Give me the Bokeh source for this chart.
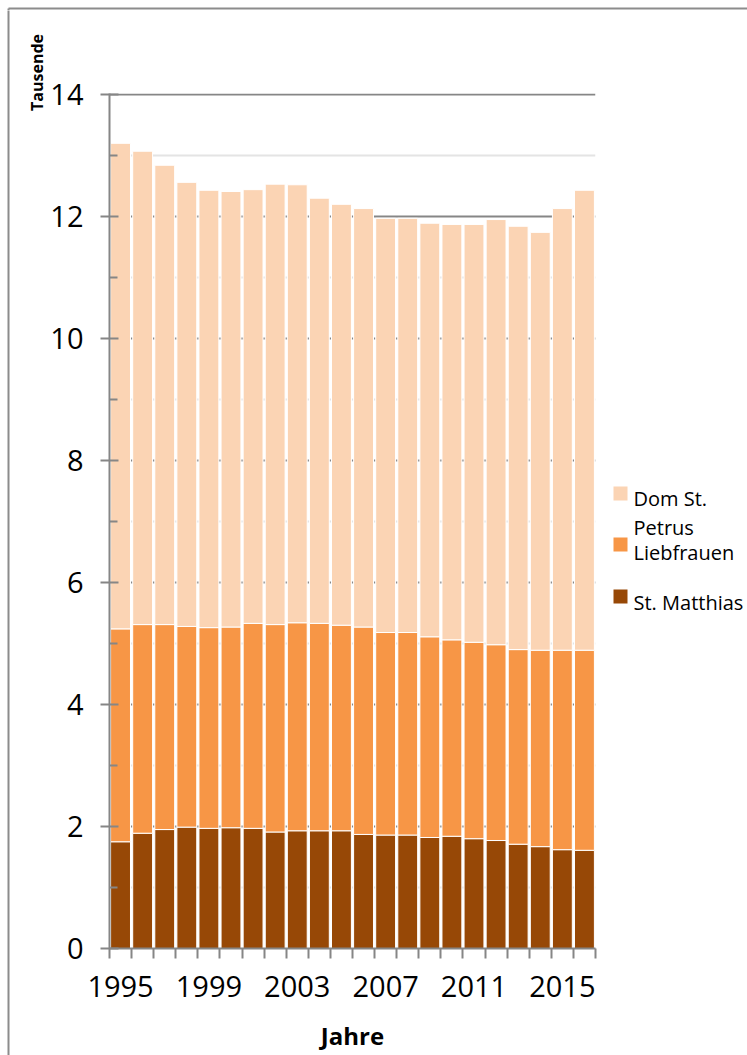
from bokeh.plotting import figure
from bokeh.layouts import row, column
from bokeh.models import ColumnDataSource, Range1d, FixedTicker
from bokeh.core.properties import value
from bokeh.embed import file_html
from bokeh.resources import INLINE
import math

# ---------------- data ----------------
years = list(range(1995, 2017))
st_matthias = [1.75, 1.89, 1.95, 1.99, 1.97, 1.98, 1.97, 1.91, 1.93, 1.93, 1.93,
               1.87, 1.86, 1.86, 1.82, 1.84, 1.80, 1.77, 1.71, 1.67, 1.62, 1.61]
liebfrauen = [3.49, 3.42, 3.36, 3.29, 3.29, 3.29, 3.36, 3.40, 3.41, 3.40, 3.37,
              3.40, 3.32, 3.32, 3.29, 3.22, 3.22, 3.21, 3.19, 3.22, 3.27, 3.28]
dom_st_petrus = [7.96, 7.76, 7.53, 7.28, 7.17, 7.14, 7.11, 7.22, 7.18, 6.97, 6.90,
                 6.86, 6.79, 6.79, 6.78, 6.81, 6.85, 6.97, 6.94, 6.85, 7.24, 7.54]
series_keys = ["matthias", "liebfrauen", "dom"]
colors = ["#974806", "#F79646", "#FBD4B4"]
legend_lines = ["Dom St.", "Petrus", "Liebfrauen", "St. Matthias"]
x_label_years = [1995, 1999, 2003, 2007, 2011, 2015]
y_ticks = [0, 2, 4, 6, 8, 10, 12, 14]
y_minor = [1, 3, 5, 7, 9, 11, 13]

source = ColumnDataSource(dict(year=years, matthias=st_matthias,
                               liebfrauen=liebfrauen, dom=dom_st_petrus))

FONT = "Open Sans"
GRAY = "#868686"
FRAME_GRAY = "#8c8c8c"

W, H = 747, 1055
TOP_H = 10                 # top strip height
ROW_H = H - TOP_H
LEFT_W = 47
MAIN_W = 558
RIGHT_W = W - LEFT_W - MAIN_W
BL, BR = 60, 10            # main figure left / right borders
BT, BB = 83, 107           # main figure top / bottom borders
FRAME_BOT = H - BB         # page y of frame bottom


def pixel_fig(w, h, top=0, bottom=0):
    f = figure(width=w, height=h, output_backend="svg", toolbar_location=None,
               x_range=Range1d(0, w), y_range=Range1d(0, h - top - bottom),
               min_border_left=0, min_border_right=0, min_border_top=top,
               min_border_bottom=bottom, x_axis_type=None, y_axis_type=None)
    f.outline_line_color = None
    f.grid.visible = False
    f.background_fill_color = "white"
    f.border_fill_color = "white"
    return f


# ---------------- top strip (outer chart border) ----------------
top = pixel_fig(W, TOP_H)
top.segment(x0=[8, 8], y0=[TOP_H - 6, TOP_H - 6], x1=[W + 5, 8], y1=[TOP_H - 6, -5],
            line_color=FRAME_GRAY, line_width=2)

# ---------------- left strip (border + unit title) ----------------
left = pixel_fig(LEFT_W, ROW_H)
left.segment(x0=[8], y0=[ROW_H + 5], x1=[8], y1=[-5], line_color=FRAME_GRAY, line_width=2)
left.text(x=[36], y=[ROW_H - (72 - TOP_H)], text=["Tausende"], angle=math.pi / 2,
          text_align="center", text_baseline="middle", text_font=value(FONT),
          text_font_style="bold", text_font_size="16px", text_color="black")

# ---------------- main chart ----------------
Y1 = 14 + 1 / 61.0
p = figure(width=MAIN_W, height=ROW_H, output_backend="svg", toolbar_location=None,
           x_range=Range1d(1994.5, 2016.5), y_range=Range1d(0, Y1),
           min_border_left=BL, min_border_right=BR, min_border_top=BT,
           min_border_bottom=BB)
p.outline_line_color = None
p.background_fill_color = "white"
p.border_fill_color = "white"

p.vbar_stack(series_keys, x="year", width=0.9, source=source, color=colors,
             line_color="white", line_width=1)

p.xaxis.ticker = FixedTicker(ticks=x_label_years,
                             minor_ticks=[y - 0.5 for y in years] + [years[-1] + 0.5])
p.xaxis.major_tick_out = 0
p.xaxis.major_tick_in = 0
p.xaxis.minor_tick_out = 10
p.xaxis.minor_tick_in = 0
p.xaxis.minor_tick_line_color = GRAY
p.xaxis.minor_tick_line_width = 2
p.xaxis.axis_line_color = GRAY
p.xaxis.axis_line_width = 2
p.xaxis.major_label_text_font = FONT
p.xaxis.major_label_text_font_size = "29px"
p.xaxis.major_label_text_color = "black"
p.xaxis.major_label_standoff = 17
p.xaxis.axis_label = "Jahre"
p.xaxis.axis_label_text_font = FONT
p.xaxis.axis_label_text_font_style = "bold"
p.xaxis.axis_label_text_font_size = "24px"
p.xaxis.axis_label_text_color = "black"
p.xaxis.axis_label_standoff = 19

p.yaxis.ticker = FixedTicker(ticks=y_ticks, minor_ticks=y_minor)
p.yaxis.major_tick_out = 9
p.yaxis.major_tick_in = 9
p.yaxis.minor_tick_out = 0
p.yaxis.minor_tick_in = 8
p.yaxis.major_tick_line_color = GRAY
p.yaxis.minor_tick_line_color = GRAY
p.yaxis.major_tick_line_width = 2
p.yaxis.minor_tick_line_width = 2
p.yaxis.axis_line_color = GRAY
p.yaxis.axis_line_width = 2
p.yaxis.major_label_text_font = FONT
p.yaxis.major_label_text_font_size = "29px"
p.yaxis.major_label_text_color = "black"
p.yaxis.major_label_standoff = 17

p.xgrid.grid_line_color = None
p.ygrid.grid_line_color = GRAY
p.ygrid.grid_line_width = 2
p.ygrid.minor_grid_line_color = "#e4e4e4"
p.ygrid.minor_grid_line_width = 2

# ---------------- legend strip (frame aligned with the main chart) ----------------
X_OFF = LEFT_W + MAIN_W
lg = pixel_fig(RIGHT_W, ROW_H, top=BT, bottom=BB)


def lg_y(page_y):
    return FRAME_BOT - page_y


sq_tops = [486, 537, 589]
legend_colors = [colors[2], colors[1], colors[0]]
lg.quad(left=[613 - X_OFF] * 3, right=[627 - X_OFF] * 3,
        top=[lg_y(t) for t in sq_tops], bottom=[lg_y(t + 14) for t in sq_tops],
        fill_color=legend_colors, line_color=None)
baselines = [498, 527, 552, 602]
lg.text(x=[633 - X_OFF] * 4, y=[lg_y(b) for b in baselines], text=legend_lines,
        text_baseline="alphabetic", text_align="left", text_font=value(FONT),
        text_font_size="20px", text_color="black")

inner = row(p, lg, spacing=0)
layout = column(top, row(left, inner, spacing=0), spacing=0)
open("out.html", "w").write(file_html(layout, INLINE))
